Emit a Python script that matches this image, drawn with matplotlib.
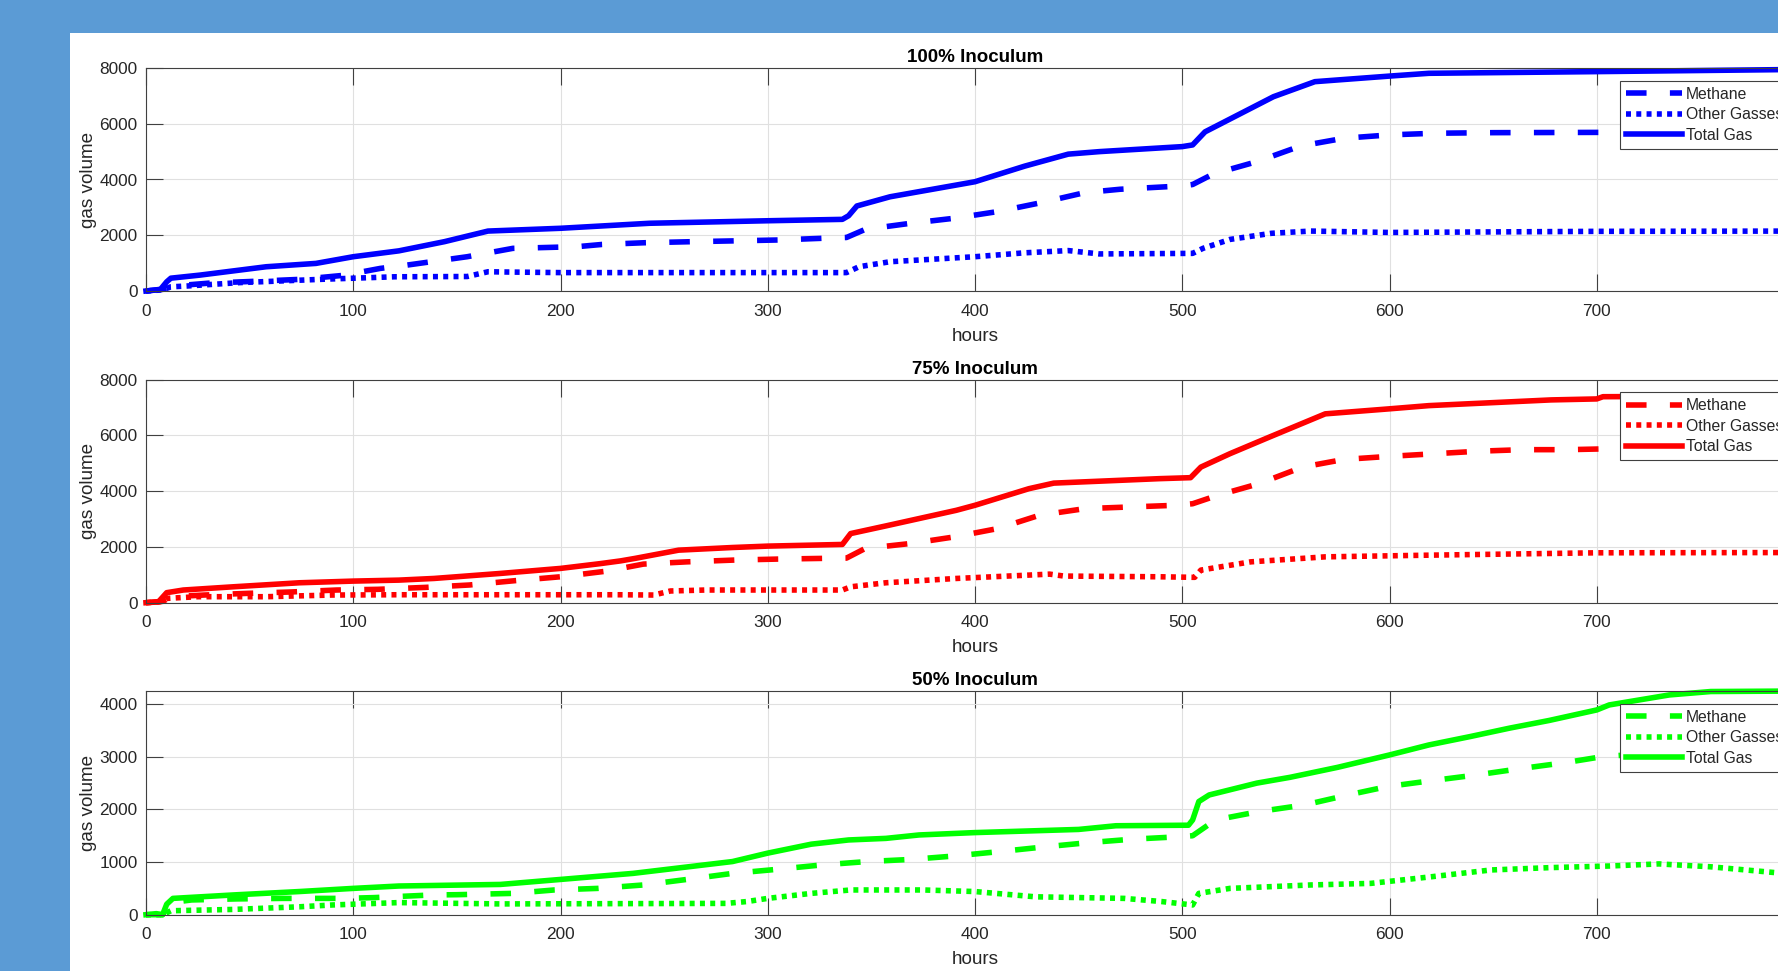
import numpy as np
import matplotlib.pyplot as plt
from matplotlib.patches import Rectangle

plt.rcParams['font.family'] = ['Liberation Sans', 'DejaVu Sans']

# 100% inoculum
h_tot_100 = [0, 7, 10, 12, 26, 58, 82, 100, 122, 144, 165, 200, 243, 300, 336, 339, 343, 359, 400, 424, 445, 460, 500, 505, 511, 544, 564, 600, 619, 700, 800]
tot_100 = [0, 60, 330, 460, 570, 870, 990, 1230, 1440, 1770, 2150, 2250, 2430, 2520, 2570, 2700, 3050, 3380, 3920, 4480, 4910, 5000, 5180, 5240, 5710, 6970, 7510, 7710, 7810, 7870, 7950]
h_met_100 = [0, 8, 12, 30, 50, 75, 95, 113, 126, 155, 177, 208, 220, 240, 264, 285, 305, 326, 338, 347, 369, 390, 411, 432, 453, 470, 500, 505, 515, 536, 557, 578, 600, 622, 650, 700, 800]
met_100 = [0, 60, 170, 280, 340, 420, 560, 810, 930, 1230, 1530, 1590, 1670, 1730, 1770, 1800, 1830, 1890, 1920, 2210, 2430, 2610, 2850, 3170, 3530, 3650, 3770, 3820, 4200, 4640, 5200, 5480, 5600, 5660, 5680, 5690, 5700]
h_oth_100 = [0, 8, 12, 20, 45, 85, 120, 155, 165, 175, 200, 300, 338, 344, 359, 400, 424, 445, 460, 505, 510, 523, 543, 562, 600, 700, 800]
oth_100 = [0, 40, 150, 180, 300, 420, 510, 520, 690, 680, 660, 660, 660, 870, 1050, 1230, 1370, 1450, 1330, 1350, 1530, 1850, 2070, 2150, 2100, 2140, 2150]

# 75% inoculum
h_tot_75 = [0, 6, 10, 18, 42, 74, 100, 122, 139, 171, 200, 219, 229, 236, 257, 283, 300, 336, 340, 357, 391, 400, 426, 438, 489, 504, 509, 523, 542, 569, 600, 619, 678, 700, 703, 800]
tot_75 = [0, 30, 360, 455, 570, 715, 775, 810, 870, 1050, 1230, 1400, 1500, 1590, 1885, 1980, 2030, 2090, 2480, 2755, 3315, 3495, 4090, 4290, 4450, 4485, 4865, 5345, 5940, 6775, 6955, 7070, 7275, 7310, 7390, 7420]
h_met_75 = [0, 8, 13, 28, 49, 70, 92, 112, 135, 156, 178, 200, 222, 240, 261, 284, 305, 327, 338, 347, 369, 390, 411, 431, 453, 475, 497, 505, 517, 537, 558, 578, 600, 622, 643, 664, 686, 705, 800]
met_75 = [0, 50, 215, 275, 335, 385, 455, 480, 550, 635, 790, 930, 1130, 1385, 1465, 1530, 1565, 1590, 1600, 1945, 2125, 2360, 2660, 3135, 3375, 3435, 3495, 3550, 3850, 4270, 4865, 5140, 5250, 5345, 5435, 5490, 5490, 5520, 5530]
h_oth_75 = [0, 8, 10, 25, 58, 90, 122, 229, 245, 253, 270, 336, 340, 357, 391, 436, 443, 489, 506, 509, 533, 569, 619, 700, 800]
oth_75 = [0, 40, 155, 215, 215, 275, 285, 285, 275, 420, 455, 455, 570, 715, 870, 1025, 955, 930, 910, 1170, 1465, 1645, 1705, 1790, 1800]

# 50% inoculum
h_tot_50 = [0, 5, 8, 10, 13, 42, 74, 100, 122, 171, 200, 235, 283, 300, 321, 339, 357, 373, 400, 450, 468, 503, 505, 508, 513, 536, 552, 575, 600, 619, 639, 658, 677, 700, 706, 735, 755, 800]
tot_50 = [0, 20, 0, 200, 310, 375, 440, 500, 545, 575, 670, 785, 1010, 1170, 1340, 1420, 1450, 1515, 1560, 1620, 1690, 1700, 1800, 2150, 2275, 2500, 2610, 2800, 3035, 3225, 3385, 3545, 3690, 3890, 3985, 4175, 4240, 4250]
h_met_50 = [0, 8, 12, 22, 44, 66, 96, 110, 138, 150, 177, 197, 218, 240, 261, 283, 304, 326, 348, 369, 390, 412, 434, 455, 476, 498, 505, 516, 537, 559, 580, 599, 621, 642, 664, 685, 703, 740, 764, 800]
met_50 = [0, 0, 230, 280, 300, 310, 310, 325, 375, 380, 405, 470, 500, 565, 670, 785, 860, 945, 1010, 1050, 1115, 1200, 1290, 1370, 1435, 1480, 1500, 1800, 1960, 2085, 2275, 2435, 2550, 2655, 2780, 2890, 3005, 3100, 3170, 3200]
h_oth_50 = [0, 8, 12, 42, 74, 90, 122, 171, 280, 290, 300, 321, 340, 375, 400, 429, 472, 490, 505, 508, 523, 562, 591, 620, 649, 678, 706, 730, 755, 800]
oth_50 = [0, 0, 75, 100, 150, 185, 230, 205, 215, 250, 310, 405, 470, 470, 440, 340, 310, 250, 185, 405, 500, 565, 595, 720, 850, 895, 925, 965, 910, 750]

titles = ['100% Inoculum', '75% Inoculum', '50% Inoculum']
colors = ['#0000ff', '#ff0000', '#00ff00']
ymaxs = [8000, 8000, 4250]
ystep = [2000, 2000, 1000]
series = [
    (h_met_100, met_100, h_oth_100, oth_100, h_tot_100, tot_100),
    (h_met_75, met_75, h_oth_75, oth_75, h_tot_75, tot_75),
    (h_met_50, met_50, h_oth_50, oth_50, h_tot_50, tot_50),
]

W, H = 1778, 971
fig = plt.figure(figsize=(W / 100, H / 100), dpi=100, facecolor='#5b9bd5')
fig.add_artist(Rectangle((70 / W, 0), 1, (H - 33) / H, transform=fig.transFigure,
                         facecolor='white', edgecolor='none', zorder=-1))

# axes rows (pixel y of the zero line), same height, right edge runs off the picture
bottoms = [291, 602.7, 914.7]
heights = [223, 223, 223.7]
lw = 4.0

for i in range(3):
    ax = fig.add_axes([146 / W, (H - bottoms[i]) / H, 1658 / W, heights[i] / H])
    hm, m, ho, o, ht, t = series[i]
    c = colors[i]
    ax.plot(hm, m, color=c, lw=lw, dashes=(3.7, 4.2), label='Methane', clip_on=False)
    ax.plot(ho, o, color=c, lw=lw, dashes=(0.9, 0.95), label='Other Gasses', clip_on=False)
    ax.plot(ht, t, color=c, lw=lw, label='Total Gas', clip_on=False)

    ax.set_xlim(0, 800)
    ax.set_ylim(0, ymaxs[i])
    # the 800 tick sits past the right edge of the picture
    ax.set_xticks(np.arange(0, 701, 100))
    ax.set_yticks(np.arange(0, ymaxs[i] + 1, ystep[i]))
    ax.grid(True, color='#e0e0e0', lw=0.8)
    ax.set_axisbelow(True)
    ax.tick_params(direction='in', length=12, width=0.8, color='#404040',
                   top=True, right=True, labelsize=12.4, labelcolor='#262626')
    ax.tick_params(axis='x', pad=9)
    ax.tick_params(axis='y', pad=6)
    for s in ax.spines.values():
        s.set_color('#404040')
        s.set_linewidth(0.8)

    ax.set_title(titles[i], fontsize=13.5, fontweight='bold', pad=4)
    ax.set_xlabel('hours', fontsize=13.6, color='#262626', labelpad=6.5)
    ax.set_ylabel('gas volume', fontsize=13.6, color='#262626', labelpad=2)

    leg = ax.legend(loc='upper left', bbox_to_anchor=(0.889, 0.943), borderaxespad=0,
                    fontsize=11.3, handlelength=3.57, handletextpad=0.25,
                    borderpad=0.38, labelspacing=0.35, fancybox=False, framealpha=1)
    leg.get_frame().set_edgecolor('#404040')
    leg.get_frame().set_linewidth(0.8)
    for tx in leg.get_texts():
        tx.set_color('#262626')

fig.savefig('out.png', dpi=100, facecolor=fig.get_facecolor())
